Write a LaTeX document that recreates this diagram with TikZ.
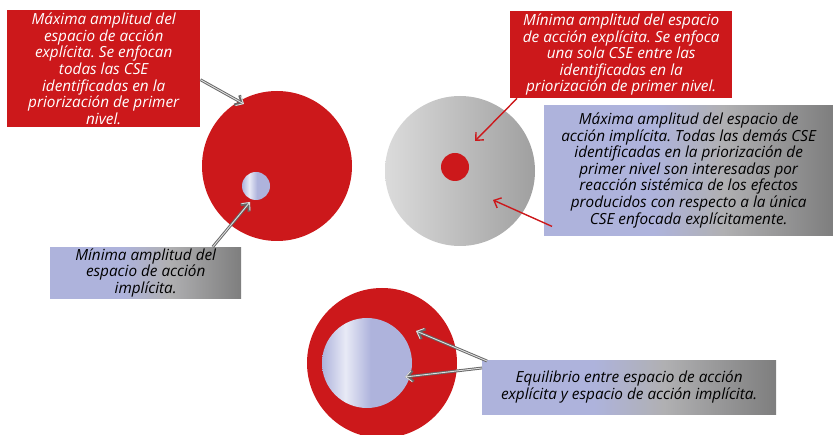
\documentclass[tikz,border=0pt]{standalone}
\usepackage{fontspec}
\setmainfont{Open Sans}
\frenchspacing
\usetikzlibrary{shapes, arrows.meta, positioning}
\definecolor{cred}{HTML}{CC181B}
\definecolor{clav}{HTML}{AEB3DC}
\definecolor{cmid}{HTML}{B0B0B2}
\definecolor{cdark}{HTML}{7E7E7E}
\definecolor{cpale}{HTML}{E8EAF6}
\pgfdeclarehorizontalshading{boxshade}{100bp}{color(0bp)=(clav); color(25bp)=(clav); color(44bp)=(clav); color(56bp)=(cmid); color(75bp)=(cdark); color(100bp)=(cdark)}
\pgfdeclarehorizontalshading{discshade}{100bp}{color(0bp)=(clav); color(25bp)=(clav); color(38bp)=(cpale); color(52bp)=(clav); color(75bp)=(clav); color(100bp)=(clav)}
\tikzstyle{redbox} = [fill=cred, text=white, rectangle, anchor=north west, align=center, inner sep=0pt, font=\itshape\fontsize{15.3}{16.6}\selectfont]
\tikzstyle{greybox} = [shading=boxshade, text=black, rectangle, anchor=north west, align=center, inner sep=0pt, font=\itshape\fontsize{15.3}{16.6}\selectfont]
\tikzstyle{disc} = [circle, inner sep=0pt]
\tikzstyle{greyarrow} = [draw=gray!25, line width=0.9pt, -{Straight Barb[length=6pt, width=11pt]}, preaction={draw=gray!80!black, line width=2.8pt, -{Straight Barb[length=6pt, width=11pt]}}]
\tikzstyle{redarrow} = [draw=cred, line width=1.4pt, -{Straight Barb[length=6pt, width=11pt]}]

\begin{document}
\begin{tikzpicture}[x=1pt, y=-1pt]
  \useasboundingbox (0,0) rectangle (833,435);
  \node[disc, fill=cred, minimum size=150pt] (C1) at (277,166) {};
  \node[disc, shading=discshade, minimum size=28pt] (c1) at (256,186) {};
  \node[disc, left color=gray!28, right color=gray!75, minimum size=150pt] (C2) at (460,171) {};
  \node[disc, fill=cred, minimum size=28pt] (c2) at (455,167) {};
  \node[disc, fill=cred, minimum size=150pt] (C3) at (382,363) {};
  \node[disc, shading=discshade, minimum size=90pt] (c3) at (367,363) {};
  \node[redbox, minimum width=193pt, minimum height=117pt] (B1) at (7,10) {M\'axima amplitud del\\espacio de acci\'on\\expl\'icita. Se enfocan\\todas las CSE\\identificadas en la\\priorizaci\'on de primer\\nivel.};
  \node[greybox, minimum width=191pt, minimum height=51pt] (B2) at (50,247) {M\'inima amplitud del\\espacio de acci\'on\\impl\'icita.};
  \node[redbox, minimum width=222pt, minimum height=87pt] (B3) at (510,11) {M\'inima amplitud del espacio\\de acci\'on expl\'icita. Se enfoca\\una sola CSE entre las\\identificadas en la\\priorizaci\'on de primer nivel.};
  \node[greybox, minimum width=289pt, minimum height=130pt] (B4) at (544,105) {M\'axima amplitud del espacio de\\acci\'on impl\'icita. Todas las dem\'as CSE\\identificadas en la priorizaci\'on de\\primer nivel son interesadas por\\reacci\'on sist\'emica de los efectos\\producidos con respecto a la \'unica\\CSE enfocada expl\'icitamente.};
  \node[greybox, minimum width=294pt, minimum height=54pt] (B5) at (482,360) {Equilibrio entre espacio de acci\'on\\expl\'icita y espacio de acci\'on impl\'icita.};
  \coordinate (t1) at (244,104);
  \coordinate (t2) at (250,202);
  \coordinate (t3) at (475,141);
  \coordinate (t4) at (493,200);
  \coordinate (t5) at (416,331);
  \coordinate (t6) at (405,377);
  \draw[greyarrow] ([yshift=-11pt]B1.east) -- (t1);
  \draw[greyarrow] ([xshift=67pt]B2.north) -- (t2);
  \draw[redarrow] ([xshift=7pt]B3.south west) -- (t3);
  \draw[redarrow] ([xshift=8pt, yshift=9pt]B4.south west) -- (t4);
  \draw[greyarrow] ([xshift=5pt, yshift=-1pt]B5.north west) -- (t5);
  \draw[greyarrow] ([yshift=-8pt]B5.north west) -- (t6);
\end{tikzpicture}
\end{document}
